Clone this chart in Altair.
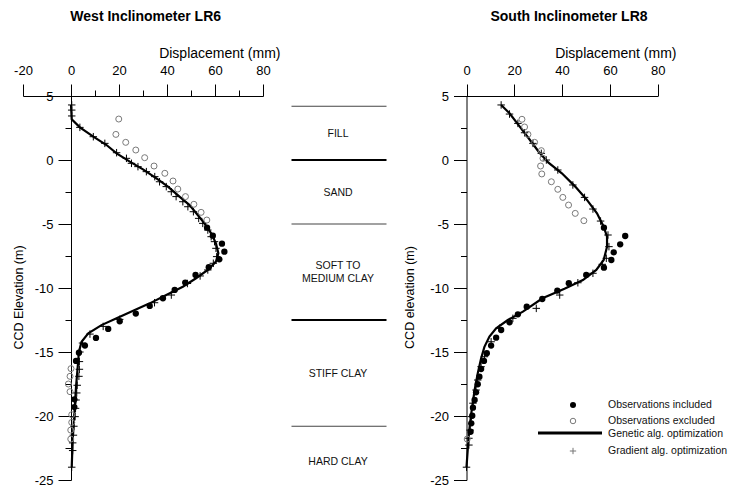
import altair as alt
import pandas as pd

FONT = "Liberation Sans"

# ---------------- West Inclinometer LR6 ----------------
west_inc_disp = [56.7, 59.1, 62.9, 63.9, 61.8, 57.4, 51.9, 47.6, 43.2, 38.3, 32.8, 27.0,
                 20.3, 15.5, 10.4, 5.8, 3.3, 2.1, 1.4, 1.4]
west_inc_elev = [-5.29, -5.91, -6.54, -7.16, -7.76, -8.38, -8.98, -9.58, -10.15, -10.8, -11.4, -12.0,
                 -12.6, -13.2, -13.9, -14.5, -15.05, -15.7, -18.7, -19.3]

west_exc_disp = [19.9, 18.7, 22.8, 27.0, 30.7, 34.6, 39.1, 42.5, 44.5, 47.7, 51.2, 54.2, 56.6,
                 0.0, -0.4, -1.1, -0.4, 0.3, 0.3, -0.1, -0.1]
west_exc_elev = [3.2, 2.0, 1.38, 0.78, 0.18, -0.47, -1.04, -1.64, -2.27, -2.86, -3.46, -4.09, -4.69,
                 -16.3, -16.9, -17.5, -18.1, -19.9, -20.5, -21.1, -21.8]

west_gen_disp = [0.0, 0.3, 3.7, 9.3, 14.8, 19.0, 24.5, 30.0, 35.6, 40.4, 45.2, 49.4, 52.8, 55.6,
                 58.4, 60.4, 61.4, 60.4, 57.0, 52.1, 46.6, 39.7, 32.8, 25.9, 19.0, 12.7, 7.2, 4.4,
                 3.3, 2.8, 2.1, 1.4, 0.7, 0.3]
west_gen_elev = [4.3, 3.18, 2.55, 1.82, 1.17, 0.52, -0.13, -0.73, -1.43, -2.08, -2.86, -3.52, -4.3, -4.95,
                 -5.73, -6.51, -7.29, -7.94, -8.59, -9.24, -9.9, -10.55, -11.2, -11.77, -12.37, -12.9, -13.54, -14.2,
                 -14.98, -16.15, -17.7, -19.8, -21.9, -24.0]

west_grad_disp = [0.3, 0.3, 0.3, 3.7, 9.3, 14.1, 19.0, 23.1, 25.2, 27.9, 31.4, 34.9, 36.9, 39.7,
                  41.8, 43.8, 46.6, 48.7, 51.0, 53.2, 54.9, 57.0, 58.4, 59.8, 60.4, 60.7, 59.3, 57.0,
                  53.8, 48.5, 41.8, 34.8, 20.3, 13.4, 7.9, 4.8, 3.7, 3.5, 3.5, 3.3, 2.6, 2.4, 2.1,
                  1.9, 1.7, 1.2, 1.0, 0.7, 0.7, 0.3]
west_grad_elev = [4.3, 3.9, 3.44, 2.55, 1.82, 1.3, 0.57, 0.13, -0.26, -0.52, -0.91, -1.3, -1.7, -2.08,
                  -2.48, -2.86, -3.26, -3.65, -4.04, -4.56, -4.95, -5.47, -5.99, -6.38, -6.9, -7.55, -8.07, -8.59,
                  -9.06, -9.65, -10.55, -11.15, -12.45, -13.0, -13.6, -14.3, -15.0, -15.75, -16.35, -16.9, -17.6, -18.2, -18.75,
                  -19.4, -20.05, -20.8, -21.5, -22.1, -22.7, -24.0]

# ---------------- South Inclinometer LR8 ----------------
south_inc_disp = [57.5, 66.4, 64.3, 61.6, 60.6, 57.5, 50.1, 42.8, 38.0, 31.7, 25.2, 21.5, 18.0,
                  14.5, 12.4, 10.3, 8.5, 7.3, 6.1, 5.4, 4.7, 4.0, 3.4, 2.7, 2.4, 2.0, 1.7]
south_inc_elev = [-5.29, -5.94, -6.59, -7.21, -7.81, -8.41, -8.98, -9.63, -10.2, -10.86, -11.46, -12.06, -12.68,
                  -13.28, -13.88, -14.5, -15.1, -15.7, -16.33, -16.93, -17.52, -18.15, -18.75, -19.35, -19.98, -20.57, -21.23]

south_exc_disp = [23.2, 24.3, 25.7, 28.5, 31.3, 32.0, 31.0, 31.5, 35.5, 38.2, 40.3, 42.7, 45.5, 49.1, 0.3]
south_exc_elev = [3.18, 2.58, 2.0, 1.38, 0.73, 0.13, -0.47, -1.09, -1.7, -2.29, -2.92, -3.52, -4.17, -4.74, -21.8]

south_gen_disp = [14.5, 18.0, 21.8, 26.0, 30.2, 34.3, 39.9, 45.5, 50.4, 54.6, 57.4, 58.8, 58.8, 57.4,
                  54.3, 48.7, 41.0, 31.8, 23.6, 17.3, 12.4, 9.6, 7.5, 6.1, 4.7, 3.4, 2.0, 1.0, 0.0]
south_gen_elev = [4.3, 3.65, 2.73, 1.7, 0.65, -0.21, -1.04, -2.08, -3.12, -4.17, -5.21, -5.99, -6.77, -7.81,
                  -8.59, -9.38, -10.05, -10.8, -11.85, -12.5, -13.15, -13.8, -14.6, -15.5, -16.67, -17.97, -19.8, -21.35, -24.0]

south_grad_disp = [14.5, 18.0, 21.5, 24.3, 27.8, 31.3, 33.4, 38.2, 44.5, 49.4, 52.9, 56.1, 59.2, 59.6,
                   58.5, 56.8, 52.9, 46.6, 39.0, 29.2, 19.4, 13.8, 10.3, 7.5, 6.1, 4.7, 4.0, 2.7, 2.0,
                   1.5, 1.0, 1.0, 0.0]
south_grad_elev = [4.3, 3.59, 2.86, 2.13, 1.3, 0.52, 0.0, -0.78, -1.95, -2.92, -3.83, -4.77, -5.86, -6.77,
                   -7.68, -8.15, -8.85, -9.59, -10.55, -11.59, -12.37, -13.15, -14.2, -15.37, -16.15, -17.19, -17.97, -19.0, -20.05,
                   -21.1, -21.74, -22.27, -24.0]

# ---------------- Soil profile ----------------
layer_bounds = [4.2, 0.0, -5.0, -12.5, -20.8]
bound_width = [1.2, 2.2, 1.2, 2.2, 1.2]
bound_color = ["#444444", "#000000", "#444444", "#000000", "#444444"]
layer_names = ["FILL", "SAND", "SOFT TO\nMEDIUM CLAY", "STIFF CLAY", "HARD CLAY"]
layer_label_elev = [2.0, -2.6, -8.3, -16.7, -23.6]

# ---------------- Axis ticks ----------------
west_x_ticks = [-20, 0, 20, 40, 60, 80]
west_x_minor = [10, 30, 50, 70]
south_x_ticks = [0, 20, 40, 60, 80]
elev_ticks = [-25, -20, -15, -10, -5, 0, 5]
elev_minor = [2.5, -2.5, -7.5, -12.5, -17.5, -22.5]

legend_labels = ["Observations included", "Observations excluded",
                 "Genetic alg. optimization", "Gradient alg. optimization"]
titles = ["West Inclinometer LR6", "South Inclinometer LR8"]
elev_titles = ["CCD Elevation (m)", "CCD elevation (m)"]

PLUS = "M-1,0L1,0M0,-1L0,1"
NEG = "datum.value < 0 ? '-' + abs(datum.value) : '' + datum.value"


def frame(disp, elev):
    return pd.DataFrame({"disp": disp, "elev": elev, "idx": list(range(len(disp)))})


W, H = 635, 384
WEST_X = alt.Scale(domain=[-20, 80], range=[0, 240], nice=False, zero=False)
SOUTH_X = alt.Scale(domain=[0, 80], range=[443.5, 634.7], nice=False, zero=False)
ELEV = alt.Scale(domain=[-25, 5], nice=False, zero=False)

common_axis = dict(grid=False, domainColor="black", tickColor="black", labelColor="black",
                   titleColor="black", labelFont=FONT, titleFont=FONT, labelFlush=False,
                   labelOverlap=False, domainWidth=1, tickWidth=1)


def x_major(values, title_x):
    return alt.Axis(orient="top", values=values, tickSize=12, labelPadding=10,
                    labelBaseline="alphabetic", labelFontSize=13, labelExpr=NEG,
                    title="Displacement (mm)", titleFontSize=14, titleFontWeight="normal",
                    titleAlign="right", titleBaseline="alphabetic", titleX=title_x, titleY=-39,
                    **common_axis)


def x_minor(values):
    return alt.Axis(orient="top", values=values, tickSize=6, labels=False, domain=False,
                    title=None, **common_axis)


def y_major(offset, title, title_x):
    return alt.Axis(orient="left", offset=offset, values=elev_ticks, tickSize=13, labelPadding=5,
                    labelFontSize=13, labelExpr=NEG, title=title, titleFontSize=12.5,
                    titleFontWeight="normal", titleAngle=270, titleAlign="center",
                    titleBaseline="middle", titleX=title_x, titleY=201, **common_axis)


def y_minor(offset):
    return alt.Axis(orient="left", offset=offset, values=elev_minor, tickSize=6, labels=False,
                    domain=False, title=None, **common_axis)


def panel(inc, exc, gen, grad, xscale, ax_major, ay_major, ax_minor, ay_minor):
    line = alt.Chart(frame(*gen)).mark_line(color="black", strokeWidth=2.2).encode(
        x=alt.X("disp:Q", scale=xscale, axis=ax_major),
        y=alt.Y("elev:Q", scale=ELEV, axis=ay_major),
        order="idx:Q",
    )
    plus = alt.Chart(frame(*grad)).mark_point(
        shape=PLUS, filled=False, stroke="black", strokeWidth=1, size=56, opacity=1
    ).encode(
        x=alt.X("disp:Q", scale=xscale, axis=ax_minor),
        y=alt.Y("elev:Q", scale=ELEV, axis=ay_minor),
    )
    excl = alt.Chart(frame(*exc)).mark_point(
        shape="circle", filled=False, stroke="#7a7a7a", strokeWidth=1, size=36, opacity=1
    ).encode(
        x=alt.X("disp:Q", scale=xscale, axis=None),
        y=alt.Y("elev:Q", scale=ELEV, axis=None),
    )
    incl = alt.Chart(frame(*inc)).mark_circle(color="black", size=40, opacity=1).encode(
        x=alt.X("disp:Q", scale=xscale, axis=None),
        y=alt.Y("elev:Q", scale=ELEV, axis=None),
    )
    return [line, plus, excl, incl]


west_layers = panel(
    (west_inc_disp, west_inc_elev), (west_exc_disp, west_exc_elev),
    (west_gen_disp, west_gen_elev), (west_grad_disp, west_grad_elev),
    WEST_X, x_major(west_x_ticks, 257), y_major(-48, elev_titles[0], -52.5),
    x_minor(west_x_minor), y_minor(-48),
)
south_layers = panel(
    (south_inc_disp, south_inc_elev), (south_exc_disp, south_exc_elev),
    (south_gen_disp, south_gen_elev), (south_grad_disp, south_grad_elev),
    SOUTH_X, x_major(south_x_ticks, 653), y_major(-443.5, elev_titles[1], -57),
    None, y_minor(-443.5),
)
# the south panel has no minor displacement ticks
south_layers[1] = south_layers[1].encode(
    x=alt.X("disp:Q", scale=SOUTH_X, axis=None)
)

# soil profile column between the panels
bounds = pd.DataFrame({"elev": layer_bounds, "w": bound_width, "c": bound_color})
bound_rules = alt.Chart(bounds).mark_rule().encode(
    x=alt.value(268.5), x2=alt.value(363.5),
    y=alt.Y("elev:Q", scale=ELEV, axis=None),
    strokeWidth=alt.StrokeWidth("w:Q", scale=None),
    color=alt.Color("c:N", scale=None),
)
names = pd.DataFrame({"elev": layer_label_elev, "name": layer_names})
bound_text = alt.Chart(names).mark_text(
    font=FONT, fontSize=10.5, color="#111111", lineBreak="\n", lineHeight=12.5, align="center"
).encode(
    x=alt.value(315),
    y=alt.Y("elev:Q", scale=ELEV, axis=None),
    text="name:N",
)

# panel titles
title_df = pd.DataFrame({"t": titles, "px": [122.7, 546.0]})
title_marks = [
    alt.Chart(pd.DataFrame({"t": [t]})).mark_text(
        font=FONT, fontSize=14, fontWeight="bold", color="black", align="center",
        baseline="alphabetic"
    ).encode(text="t:N", x=alt.value(px), y=alt.value(-75.3))
    for t, px in zip(title_df["t"], title_df["px"])
]

# legend
leg_y = [309, 325, 338, 355]
legend_text = alt.Chart(pd.DataFrame({"t": legend_labels, "py": leg_y})).mark_text(
    font=FONT, fontSize=10.5, color="#111111", align="left", baseline="middle"
).encode(text="t:N", x=alt.value(585), y=alt.Y("py:Q", scale=None, axis=None))
leg_incl = alt.Chart(pd.DataFrame({"k": [0]})).mark_circle(color="black", size=36, opacity=1).encode(
    x=alt.value(550), y=alt.value(leg_y[0]))
leg_excl = alt.Chart(pd.DataFrame({"k": [0]})).mark_point(
    shape="circle", filled=False, stroke="#7a7a7a", strokeWidth=1, size=30, opacity=1
).encode(x=alt.value(550), y=alt.value(leg_y[1]))
leg_line = alt.Chart(pd.DataFrame({"k": [0]})).mark_rule(color="black", strokeWidth=2.8).encode(
    x=alt.value(515), x2=alt.value(579), y=alt.value(leg_y[2] - 1))
leg_plus = alt.Chart(pd.DataFrame({"k": [0]})).mark_point(
    shape=PLUS, filled=False, stroke="#777777", strokeWidth=1, size=40, opacity=1
).encode(x=alt.value(550), y=alt.value(leg_y[3]))

chart = alt.layer(
    *west_layers, *south_layers, bound_rules, bound_text, *title_marks,
    legend_text, leg_incl, leg_excl, leg_line, leg_plus,
).resolve_scale(
    x="independent"
).resolve_axis(
    x="independent", y="independent"
).properties(
    width=W, height=H,
    padding={"left": 23, "top": 96, "right": 71, "bottom": 8},
    autosize=alt.AutoSizeParams(type="none"),
    background="white",
).configure_view(stroke=None)

chart.save("out.html", embed_options={"renderer": "svg", "actions": False})
